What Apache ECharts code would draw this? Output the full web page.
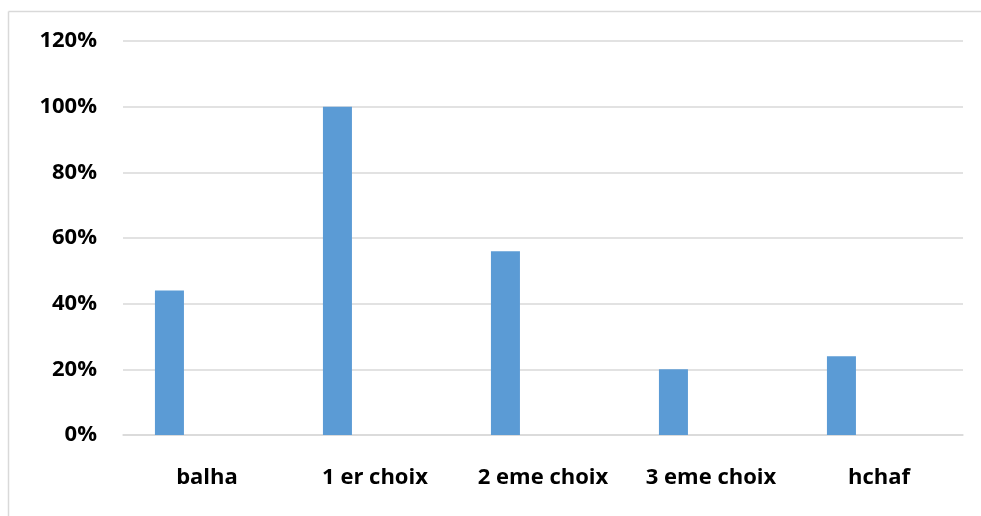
<!DOCTYPE html>
<html>
<head>
<meta charset="utf-8">
<script src="https://cdn.jsdelivr.net/npm/echarts@6/dist/echarts.min.js"></script>
<style>
  html, body { margin: 0; padding: 0; background: #ffffff; }
  #chart { width: 981px; height: 516px; }
</style>
</head>
<body>
<div id="chart"></div>
<script>
// Categories and their shares (percent)
const categories = ['balha', '1 er choix', '2 eme choix', '3 eme choix', 'hchaf'];
const shares = [44, 100, 56, 20, 24];
// Second, empty series slot keeps the bars to the left of each category
const emptySlot = [null, null, null, null, null];

const FONT = '"Open Sans", Lato, sans-serif';
const FRAME = { stroke: '#d9d9d9', lineWidth: 1.5 };

const chart = echarts.init(document.getElementById('chart'), null, { renderer: 'canvas' });
chart.setOption({
  animation: false,
  backgroundColor: '#ffffff',
  // Chart-area frame: only its top and left edges fall inside the page
  graphic: [
    { type: 'line', silent: true, shape: { x1: 8.5, y1: 11.5, x2: 981, y2: 11.5 }, style: FRAME },
    { type: 'line', silent: true, shape: { x1: 8.5, y1: 11.5, x2: 8.5, y2: 516 }, style: FRAME }
  ],
  grid: { left: 123, right: 18, top: 41, bottom: 81, containLabel: false },
  xAxis: {
    type: 'category',
    data: categories,
    axisLine: { show: true, lineStyle: { color: '#d9d9d9', width: 1.5 } },
    axisTick: { show: false },
    axisLabel: {
      interval: 0, hideOverlap: false,
      color: '#000000', fontFamily: FONT, fontWeight: 'bold', fontSize: 22, margin: 32
    }
  },
  yAxis: {
    type: 'value',
    min: 0, max: 120, interval: 20,
    axisLine: { show: false },
    axisTick: { show: false },
    splitLine: { lineStyle: { color: '#d9d9d9', width: 1.5 } },
    axisLabel: {
      formatter: '{value}%',
      color: '#000000', fontFamily: FONT, fontWeight: 'bold', fontSize: 22, margin: 26
    }
  },
  series: [
    {
      type: 'bar',
      data: shares,
      barWidth: 29,
      barGap: '159%',
      itemStyle: { color: '#5b9bd5' }
    },
    {
      type: 'bar',
      data: emptySlot,
      barWidth: 29,
      itemStyle: { color: '#ed7d31' }
    }
  ]
});
</script>
</body>
</html>
